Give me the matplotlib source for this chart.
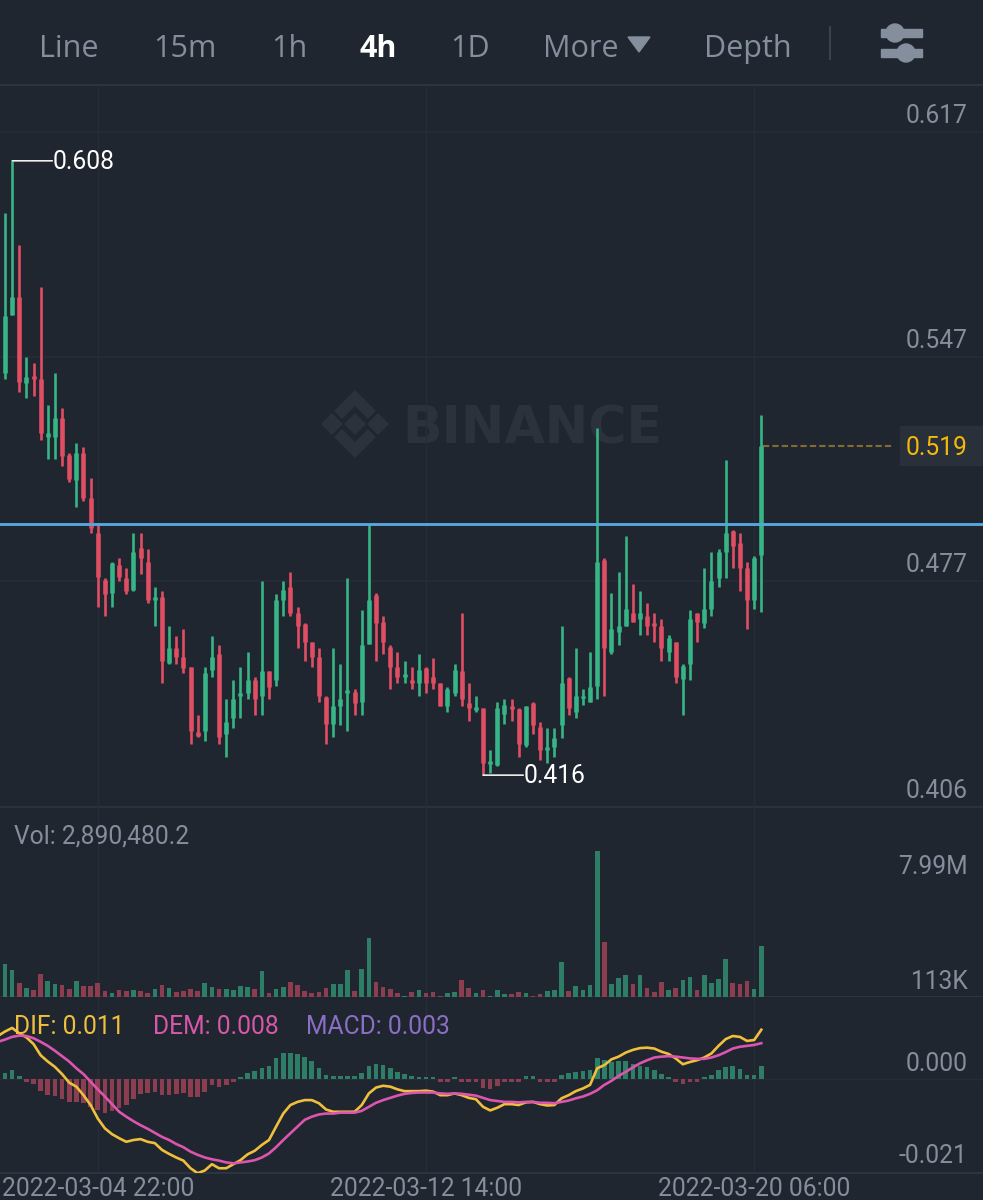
import matplotlib
matplotlib.use("Agg")
import matplotlib.pyplot as plt
import numpy as np
from matplotlib.patches import Polygon, Rectangle, Circle

plt.rcParams['font.family'] = ['Roboto', 'DejaVu Sans']

# candles, first one is cut off by the left edge
opens = [.5401, .5417, .5598, .5655, .5386, .5408, .5398, .5217, .5217, .5276, .5161,
         .5083, .5167, .5026, .4917, .4770, .4729, .4817, .4776, .4739, .4870,
         .4826, .4708, .4717, .4511, .4557, .4529, .4498, .4295, .4298, .4489,
         .4539, .4289, .4338, .4407, .4417, .4457, .4407, .4486, .4457, .4708,
         .4748, .4667, .4633, .4576, .4529, .4404, .4320, .4376, .4417, .4420,
         .4389, .4570, .4723, .4639, .4561, .4498, .4467, .4457, .4448, .4495,
         .4467, .4448, .4376, .4417, .4486, .4385, .4364, .4370, .4195, .4192,
         .4351, .4376, .4367, .4254, .4385, .4310, .4239, .4248, .4317, .4464,
         .4357, .4401, .4389, .4439, .4833, .4545, .4607, .4626, .4667, .4648,
         .4657, .4636, .4626, .4545, .4576, .4461, .4507, .4667, .4636, .4679,
         .4776, .4858, .4923, .4885, .4807, .4708, .4849]
closes = [.5498, .5595, .5655, .5389, .5405, .5398, .5229, .5229, .5276, .5158, .5086,
          .5167, .5026, .4933, .4779, .4726, .4823, .4779, .4736, .4858, .4839,
          .4708, .4717, .4517, .4557, .4529, .4495, .4298, .4282, .4479, .4529,
          .4279, .4326, .4398, .4417, .4457, .4398, .4486, .4435, .4708, .4739,
          .4667, .4626, .4576, .4529, .4407, .4320, .4376, .4398, .4426, .4385,
          .4567, .4708, .4636, .4576, .4498, .4467, .4476, .4448, .4489, .4448,
          .4448, .4376, .4429, .4489, .4398, .4370, .4373, .4198, .4204, .4370,
          .4379, .4367, .4257, .4376, .4317, .4239, .4248, .4276, .4448, .4370,
          .4407, .4407, .4435, .4826, .4557, .4617, .4626, .4679, .4639, .4667,
          .4626, .4626, .4557, .4589, .4467, .4501, .4648, .4639, .4679, .4767,
          .4858, .4917, .4876, .4807, .4708, .4839, .5190]
highs = [.5645, .5917, .6080, .5817, .5467, .5448, .5686, .5317, .5417, .5308, .5167,
         .5198, .5186, .5089, .4942, .4776, .4826, .4839, .4807, .4917, .4917,
         .4867, .4748, .4736, .4626, .4595, .4617, .4498, .4348, .4498, .4595,
         .4567, .4398, .4457, .4498, .4545, .4467, .4767, .4486, .4726, .4767,
         .4795, .4686, .4636, .4576, .4557, .4407, .4557, .4507, .4776, .4429,
         .4676, .4945, .4729, .4657, .4567, .4545, .4517, .4498, .4539, .4498,
         .4526, .4448, .4435, .4507, .4667, .4448, .4407, .4370, .4239, .4389,
         .4398, .4398, .4370, .4376, .4389, .4326, .4307, .4307, .4626, .4467,
         .4557, .4429, .4545, .5245, .4839, .4729, .4795, .4908, .4758, .4736,
         .4698, .4667, .4648, .4598, .4576, .4507, .4676, .4667, .4807, .4858,
         .4867, .5145, .4926, .4917, .4826, .4845, .5286]
lows = [.5395, .5398, .5598, .5358, .5339, .5345, .5207, .5148, .5148, .5126, .5076,
        .4998, .5017, .4917, .4686, .4657, .4686, .4767, .4726, .4736, .4789,
        .4698, .4626, .4448, .4507, .4507, .4479, .4257, .4279, .4267, .4467,
        .4257, .4217, .4307, .4338, .4398, .4348, .4348, .4398, .4439, .4657,
        .4657, .4557, .4517, .4498, .4389, .4257, .4279, .4317, .4298, .4348,
        .4348, .4570, .4517, .4539, .4429, .4448, .4448, .4429, .4407, .4417,
        .4429, .4376, .4357, .4407, .4376, .4329, .4357, .4160, .4167, .4189,
        .4320, .4329, .4217, .4248, .4289, .4207, .4198, .4217, .4276, .4348,
        .4338, .4379, .4389, .4398, .4407, .4539, .4567, .4626, .4639, .4598,
        .4598, .4576, .4517, .4517, .4448, .4348, .4457, .4576, .4620, .4657,
        .4748, .4776, .4807, .4736, .4617, .4679, .4670]

# volume in millions
volumes = [.60, 1.90, 1.57, .87, .60, .49, 1.36, .98, .82, .76, .55,
           .98, .71, .71, .87, .44, .33, .49, .44, .49, .44,
           .33, .55, .76, .60, .38, .44, .55, .44, .87, .65,
           .55, .55, .49, .71, .65, .55, 1.52, .33, .55, .65,
           .92, .76, .44, .33, .38, .60, .82, .82, 1.57, .44,
           1.63, 3.30, .92, .65, .55, .33, .14, .38, .49, .33,
           .38, .14, .33, .38, 1.03, .60, .33, .49, .14, .49,
           .27, .27, .38, .33, .14, .27, .44, .49, 2.00, .44,
           .71, .49, .76, 7.99, 3.08, .82, 1.14, 1.30, .82, 1.30,
           .60, .38, .92, .49, .60, 1.03, 1.19, .49, 1.30, .87,
           1.09, 2.17, .87, .82, .98, .55, 2.89]

macd = [.0012, .0014, .0020, .0007, -.0006, -.0010, -.0027, -.0036, -.0037, -.0045, -.0051,
        -.0051, -.0054, -.0062, -.0069, -.0075, -.0071, -.0064, -.0058, -.0045, -.0033,
        -.0032, -.0030, -.0036, -.0036, -.0033, -.0032, -.0039, -.0041, -.0028, -.0013,
        -.0017, -.0013, -.0007, .0005, .0013, .0017, .0024, .0029, .0046, .0059,
        .0059, .0056, .0050, .0040, .0025, .0010, .0007, .0007, .0007, .0007,
        .0013, .0029, .0033, .0031, .0024, .0016, .0011, .0007, .0005, .0005,
        .0005, -.0006, -.0006, .0005, -.0006, -.0006, -.0006, -.0019, -.0023, -.0015,
        -.0006, -.0006, -.0006, .0006, .0006, -.0006, -.0006, -.0006, .0009, .0013,
        .0016, .0018, .0020, .0046, .0042, .0039, .0041, .0041, .0033, .0029,
        .0026, .0020, .0011, .0005, -.0006, -.0012, -.0006, -.0006, .0005, .0010,
        .0020, .0027, .0029, .0022, .0010, .0010, .0030]
dif = [.0096, .0106, .0114, .0102, .0093, .0078, .0053, .0039, .0027, .0011, -.0008,
       -.0017, -.0036, -.0058, -.0088, -.0110, -.0123, -.0132, -.0140, -.0136, -.0134,
       -.0140, -.0143, -.0158, -.0167, -.0175, -.0182, -.0199, -.0210, -.0204, -.0190,
       -.0199, -.0199, -.0190, -.0181, -.0168, -.0160, -.0147, -.0136, -.0106, -.0077,
       -.0058, -.0051, -.0047, -.0047, -.0054, -.0068, -.0073, -.0073, -.0073, -.0073,
       -.0058, -.0032, -.0019, -.0015, -.0017, -.0023, -.0027, -.0027, -.0027, -.0026,
       -.0028, -.0036, -.0036, -.0032, -.0036, -.0042, -.0045, -.0062, -.0070, -.0064,
       -.0056, -.0056, -.0058, -.0052, -.0051, -.0056, -.0059, -.0058, -.0043, -.0036,
       -.0027, -.0021, -.0013, .0024, .0031, .0044, .0050, .0059, .0065, .0069,
       .0070, .0068, .0061, .0056, .0046, .0033, .0038, .0042, .0048, .0057,
       .0074, .0089, .0096, .0094, .0085, .0087, .0110]
dem = [.0083, .0088, .0094, .0097, .0096, .0091, .0083, .0074, .0063, .0051, .0039,
       .0024, .0011, -.0006, -.0023, -.0039, -.0056, -.0073, -.0084, -.0094, -.0103,
       -.0111, -.0120, -.0129, -.0136, -.0145, -.0152, -.0162, -.0169, -.0175, -.0179,
       -.0182, -.0186, -.0188, -.0186, -.0184, -.0181, -.0175, -.0166, -.0152, -.0136,
       -.0121, -.0106, -.0091, -.0084, -.0079, -.0077, -.0077, -.0075, -.0075, -.0075,
       -.0071, -.0062, -.0053, -.0047, -.0042, -.0037, -.0033, -.0031, -.0030, -.0030,
       -.0030, -.0032, -.0033, -.0032, -.0033, -.0035, -.0037, -.0042, -.0047, -.0049,
       -.0051, -.0051, -.0052, -.0051, -.0051, -.0053, -.0053, -.0054, -.0051, -.0048,
       -.0043, -.0039, -.0033, -.0025, -.0013, -.0004, .0007, .0016, .0026, .0035,
       .0042, .0048, .0050, .0051, .0050, .0048, .0046, .0045, .0045, .0048,
       .0053, .0060, .0068, .0072, .0074, .0076, .0080]

price_ticks = [0.617, 0.5467, 0.4766, 0.406]
macd_ticks = [0.000, -0.021]
date_ticks = [13, 59, 105]
date_labels = ['2022-03-04 22:00', '2022-03-12 14:00', '2022-03-20 06:00']
tabs = ['Line', '15m', '1h', '4h', '1D', 'More', 'Depth']
tab_x = [39, 153, 271, 359, 450, 543, 704]
alert_line = 0.4945
last_price = 0.519
last_volume = '2,890,480.2'

BG = '#1f2630'
GRID = '#262d38'
SEP = '#2d343f'
GREEN = '#37b586'
RED = '#e04e64'
GREEN_DIM = '#2e7d66'
RED_DIM = '#8c3d50'
GREY = '#848e9c'
FS = 17.7

W, H = 983, 1200
fig = plt.figure(figsize=(W / 100, H / 100), dpi=100, facecolor=BG)


def panel(top, bottom):
    ax = fig.add_axes([0, 1 - bottom / H, 1, (bottom - top) / H], facecolor='none')
    ax.set_xlim(-5 / 7.135, (W - 5) / 7.135)
    for s in ax.spines.values():
        s.set_visible(False)
    ax.tick_params(length=0)
    ax.set_yticks([])
    ax.set_xticks(date_ticks)
    ax.set_xticklabels([])
    ax.grid(axis='x', color=GRID, lw=1)
    ax.set_axisbelow(True)
    return ax


def right_label(ax, val, text, color=GREY, off=3):
    ax.annotate(text, (1, val), xycoords=('axes fraction', 'data'), xytext=(-11, off),
                textcoords='offset points', ha='right', va='bottom', color=color, fontsize=FS)


# header and watermark live on a pixel-sized backdrop
bg = fig.add_axes([0, 0, 1, 1], facecolor='none', zorder=-1)
bg.set_xlim(0, W)
bg.set_ylim(H, 0)
bg.axis('off')
for name, x in zip(tabs, tab_x):
    active = name == '4h'
    bg.text(x, 49, name, color='white' if active else GREY, fontsize=22, family='Open Sans',
            fontweight='bold' if active else 'normal', va='center', ha='left')
bg.add_patch(Polygon([(628, 37), (650, 37), (639, 52)], color=GREY))
bg.plot([830, 830], [27, 59], color='#3a424e', lw=1.5)
bg.add_patch(Rectangle((881, 29), 41, 8, color=GREY))
bg.add_patch(Rectangle((881, 49), 41, 8, color=GREY))
bg.add_patch(Circle((895, 33), 9, color=GREY))
bg.add_patch(Circle((906, 53), 9, color=GREY))
bg.plot([0, W], [85, 85], color=SEP, lw=1.5)
logo = '#2b323c'
cx, cy = 355, 424
bg.add_patch(Polygon([(cx, cy - 10), (cx + 10, cy), (cx, cy + 10), (cx - 10, cy)], color=logo))
bg.add_patch(Polygon([(cx - 33, cy), (cx - 23, cy - 10), (cx - 13, cy), (cx - 23, cy + 10)], color=logo))
bg.add_patch(Polygon([(cx + 33, cy), (cx + 23, cy - 10), (cx + 13, cy), (cx + 23, cy + 10)], color=logo))
bg.add_patch(Polygon([(cx, cy - 33), (cx + 20, cy - 13), (cx + 13, cy - 6), (cx, cy - 19),
                      (cx - 13, cy - 6), (cx - 20, cy - 13)], color=logo))
bg.add_patch(Polygon([(cx, cy + 33), (cx + 20, cy + 13), (cx + 13, cy + 6), (cx, cy + 19),
                      (cx - 13, cy + 6), (cx - 20, cy + 13)], color=logo))
bg.text(402, 443, 'BINANCE', color=logo, fontsize=37.5, fontweight='bold', family='DejaVu Sans',
        va='baseline', ha='left')

xs = np.arange(-1, 107)
opens, highs, lows, closes = map(np.array, (opens, highs, lows, closes))
up = closes >= opens

# price panel
ax = panel(85, 807)
ax.set_ylim(0.40604, 0.6317)
for t in price_ticks:
    ax.axhline(t, color=GRID if t != 0.406 else SEP, lw=1.2, zorder=0, clip_on=False)
    right_label(ax, t, f'{t:.3f}')
ax.vlines(xs, lows, highs, colors=np.where(up, GREEN, RED), lw=1.9, zorder=2)
ax.vlines(xs, np.minimum(opens, closes), np.maximum(opens, closes),
          colors=np.where(up, GREEN, RED), lw=3.3, zorder=2)
ax.axhline(alert_line, color='#56a6dd', lw=2.1, zorder=3)
ax.plot([106.2, 124.6], [last_price, last_price], color='#856c2e', lw=1.5, ls=(0, (3, 1.5)), zorder=1)
ax.add_patch(Rectangle((0.9155, last_price - 0.0062), 0.0845, 0.0124, color='#2a3039',
                       transform=ax.get_yaxis_transform(), zorder=1))
ax.annotate(f'{last_price:.3f}', (1, last_price), xycoords=('axes fraction', 'data'), xytext=(-11, 0),
            textcoords='offset points', ha='right', va='center_baseline', color='#f0b90b', fontsize=FS, zorder=4)
imax, imin = int(np.argmax(highs)), int(np.argmin(lows))
for i, val in [(imax, highs[imax]), (imin, lows[imin])]:
    ax.annotate('', (xs[i], val), xytext=(29, 0), textcoords='offset points', zorder=4,
                arrowprops=dict(arrowstyle='-', color='white', lw=1.1, shrinkA=0, shrinkB=0))
    ax.annotate(f'{val:.3f}', (xs[i], val), xytext=(29.5, 1), textcoords='offset points', color='white',
                fontsize=FS, va='center_baseline', ha='left', zorder=4)

# volume panel
vax = panel(807, 997)
vax.set_ylim(0.113, 10.37)
vax.bar(xs, volumes, width=0.65, color=np.where(up, GREEN_DIM, RED_DIM), zorder=2)
vax.axhline(0.113, color=SEP, lw=1.5, zorder=1)
vax.text(14 / W, 0.845, f'Vol: {last_volume}', transform=vax.transAxes, color=GREY, fontsize=FS, va='center')
right_label(vax, max(volumes), f'{max(volumes):.2f}M', off=-20)
right_label(vax, 0.113, '113K', off=2)

# macd panel
max_ = panel(997, 1173)
max_.set_ylim(-0.02096, 0.0183)
for t in macd_ticks:
    max_.axhline(t, color=GRID, lw=1, zorder=0)
max_.bar(xs, macd, width=0.65, color=[GREEN_DIM if v >= 0 else RED_DIM for v in macd], zorder=2)
max_.plot(xs, dif, color='#f0bf3c', lw=1.9, zorder=3)
max_.plot(xs, dem, color='#dc55ae', lw=1.9, zorder=4)
right_label(max_, 0.0, '0.000', off=2)
right_label(max_, -0.021, '-0.021', off=4)
legend_y = 0.83
for x, txt, col in [(14, f'DIF: {dif[-1]:.3f}', '#f0bf3c'), (153, f'DEM: {dem[-1]:.3f}', '#d857a8'),
                    (306, f'MACD: {macd[-1]:.3f}', '#8a6fc4')]:
    max_.text(x / W, legend_y, txt, transform=max_.transAxes, color=col, fontsize=FS, va='center', zorder=5)
max_.set_xticklabels(date_labels, color=GREY, fontsize=FS)
max_.tick_params(axis='x', pad=3)
max_.axhline(-0.02096, color=SEP, lw=1.5, zorder=0, clip_on=False)

fig.savefig('out.png', dpi=100, facecolor=BG)
